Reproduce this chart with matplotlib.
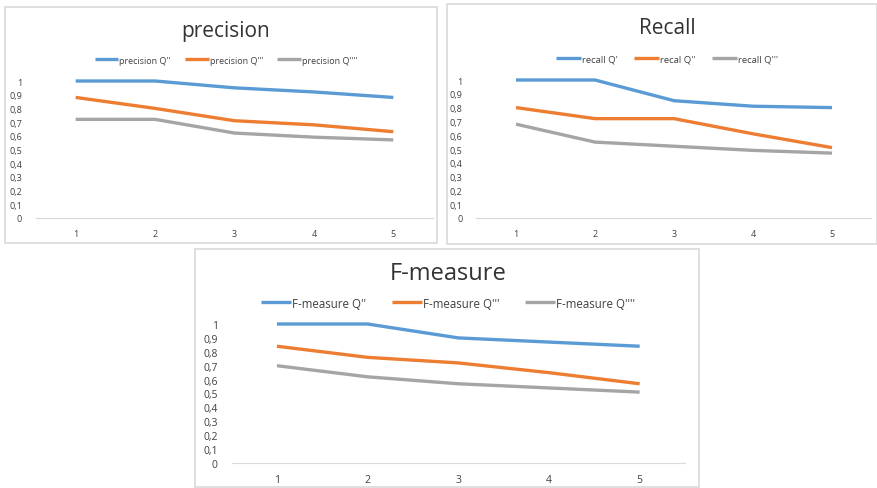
import matplotlib.pyplot as plt
from matplotlib.patches import Rectangle
from matplotlib.ticker import FuncFormatter

plt.rcParams['font.family'] = ['Open Sans', 'DejaVu Sans']

x_vals = [1, 2, 3, 4, 5]
y_ticks = [0, 0.1, 0.2, 0.3, 0.4, 0.5, 0.6, 0.7, 0.8, 0.9, 1]

precision_q2 = [1.0, 1.0, 0.95, 0.92, 0.88]
precision_q3 = [0.88, 0.80, 0.71, 0.68, 0.63]
precision_q4 = [0.72, 0.72, 0.62, 0.59, 0.57]
precision_labels = ["precision Q''", "precision Q'''", "precision Q''''"]

recall_q1 = [1.0, 1.0, 0.85, 0.81, 0.80]
recall_q2 = [0.80, 0.72, 0.72, 0.61, 0.51]
recall_q3 = [0.68, 0.55, 0.52, 0.49, 0.47]
recall_labels = ["recall Q'", "recal Q''", "recall Q'''"]

fmeasure_q2 = [1.0, 1.0, 0.90, 0.87, 0.84]
fmeasure_q3 = [0.84, 0.76, 0.72, 0.65, 0.57]
fmeasure_q4 = [0.70, 0.62, 0.57, 0.54, 0.51]
fmeasure_labels = ["F-measure Q''", "F-measure Q'''", "F-measure Q''''"]

colors = ['#5B9BD5', '#ED7D31', '#A5A5A5']
W, H = 878, 489

fig = plt.figure(figsize=(W / 100, H / 100), dpi=100)
fig.patch.set_facecolor('white')


def box(x0, y0, x1, y1):
    fig.patches.append(Rectangle((x0 / W, 1 - y1 / H), (x1 - x0) / W, (y1 - y0) / H,
                                 transform=fig.transFigure, fill=False,
                                 edgecolor='#d9d9d9', linewidth=1.2))


def panel(px, py, title, tx, ty, tsize, series, labels, ly, lsize, ticksize, colsp):
    # px = (x at 0.5, x at 5.5), py = (y at 1, y at 0) in pixels
    ax = fig.add_axes([px[0] / W, 1 - py[1] / H, (px[1] - px[0]) / W, (py[1] - py[0]) / H])
    handles = []
    for s, c, lab in zip(series, colors, labels):
        h, = ax.plot(x_vals, s, color=c, lw=2.4, solid_joinstyle='round',
                     solid_capstyle='butt', clip_on=False, label=lab)
        handles.append(h)
    ax.set_xlim(0.5, 5.5)
    ax.set_ylim(0, 1)
    ax.set_xticks(x_vals)
    ax.set_yticks(y_ticks)
    ax.yaxis.set_major_formatter(FuncFormatter(lambda v, p: ('%g' % round(v, 1)).replace('.', ',')))
    for side in ['top', 'right', 'left']:
        ax.spines[side].set_visible(False)
    ax.spines['bottom'].set_color('#d9d9d9')
    ax.tick_params(length=0, labelsize=ticksize, colors='#404040')
    ax.tick_params(axis='x', pad=8)
    ax.tick_params(axis='y', pad=10)
    ax.patch.set_alpha(0)
    fig.text(tx / W, 1 - ty / H, title, ha='center', va='center', fontsize=tsize, color='#333333')
    fig.legend(handles=handles, loc='center', bbox_to_anchor=(tx / W, 1 - ly / H),
               ncol=3, frameon=False, fontsize=lsize, handlelength=2.6, handletextpad=0.1,
               columnspacing=colsp, labelcolor='#404040')
    return ax


box(5, 8, 437, 244)
box(447, 5, 877, 245)
box(195, 250, 699, 488)

panel((36, 433), (82, 219), 'precision', 226, 31, 15,
      [precision_q2, precision_q3, precision_q4], precision_labels, 61, 6.5, 6.5, 1.6)
panel((476.5, 871.5), (81, 219), 'Recall', 667, 29, 15,
      [recall_q1, recall_q2, recall_q3], recall_labels, 60, 6.8, 6.5, 1.8)
panel((231.6, 685), (325, 464), 'F-measure', 448, 274, 17,
      [fmeasure_q2, fmeasure_q3, fmeasure_q4], fmeasure_labels, 304, 8.3, 7.5, 2.2)

fig.savefig('out.png', dpi=100)
